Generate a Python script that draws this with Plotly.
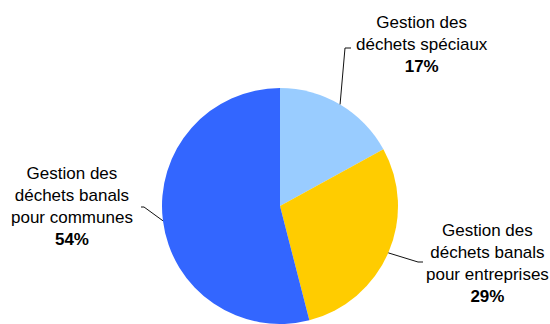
import math
import plotly.graph_objects as go

# Répartition des dépenses de gestion des déchets
labels = [
    "Gestion des<br>déchets spéciaux",
    "Gestion des<br>déchets banals<br>pour entreprises",
    "Gestion des<br>déchets banals<br>pour communes",
]
values = [17, 29, 54]
colors = ["#99CCFF", "#FFCC00", "#3366FF"]

W, H = 550, 324
CX, CY, R = 280, 206, 118  # pie centre and radius in pixels

# label text centre (px) and elbow of the leader line (px), per slice
label_pos = [(422, 45), (487, 263), (72, 206)]
elbows = [((345, 48), (351, 48)), ((418, 262), (423, 262)), ((144, 207), (141, 207))]


def px(x, y):
    return x / W, 1 - y / H


fig = go.Figure(
    go.Pie(
        labels=[l.replace("<br>", " ") for l in labels],
        values=values,
        marker=dict(colors=colors, line=dict(width=0)),
        sort=False,
        direction="clockwise",
        rotation=0,
        textinfo="none",
        hoverinfo="label+percent",
        showlegend=False,
        domain=dict(x=[(CX - R) / W, (CX + R) / W], y=[0, 2 * R / H]),
    )
)

total = sum(values)
cum = 0
shapes = []
annotations = []
for lab, v, (lx, ly), (e1, e2) in zip(labels, values, label_pos, elbows):
    mid = (cum + v / 2) / total * 2 * math.pi
    cum += v
    sx = CX + R * math.sin(mid)
    sy = CY - R * math.cos(mid)
    pts = [(sx, sy), e1, e2]
    for (x0, y0), (x1, y1) in zip(pts[:-1], pts[1:]):
        a0, b0 = px(x0, y0)
        a1, b1 = px(x1, y1)
        shapes.append(dict(type="line", xref="paper", yref="paper",
                           x0=a0, y0=b0, x1=a1, y1=b1,
                           line=dict(color="#111111", width=1)))
    ax, ay = px(lx, ly)
    annotations.append(dict(
        x=ax, y=ay, xref="paper", yref="paper",
        text=f"{lab}<br><b>{v}%</b>",
        showarrow=False, xanchor="center", yanchor="middle", align="center",
        font=dict(family="Liberation Sans, Arial, sans-serif", size=17, color="#000000"),
    ))

fig.update_layout(
    width=W, height=H,
    margin=dict(l=0, r=0, t=0, b=0),
    paper_bgcolor="white", plot_bgcolor="white",
    shapes=shapes, annotations=annotations,
)

fig.write_html("out.html")
